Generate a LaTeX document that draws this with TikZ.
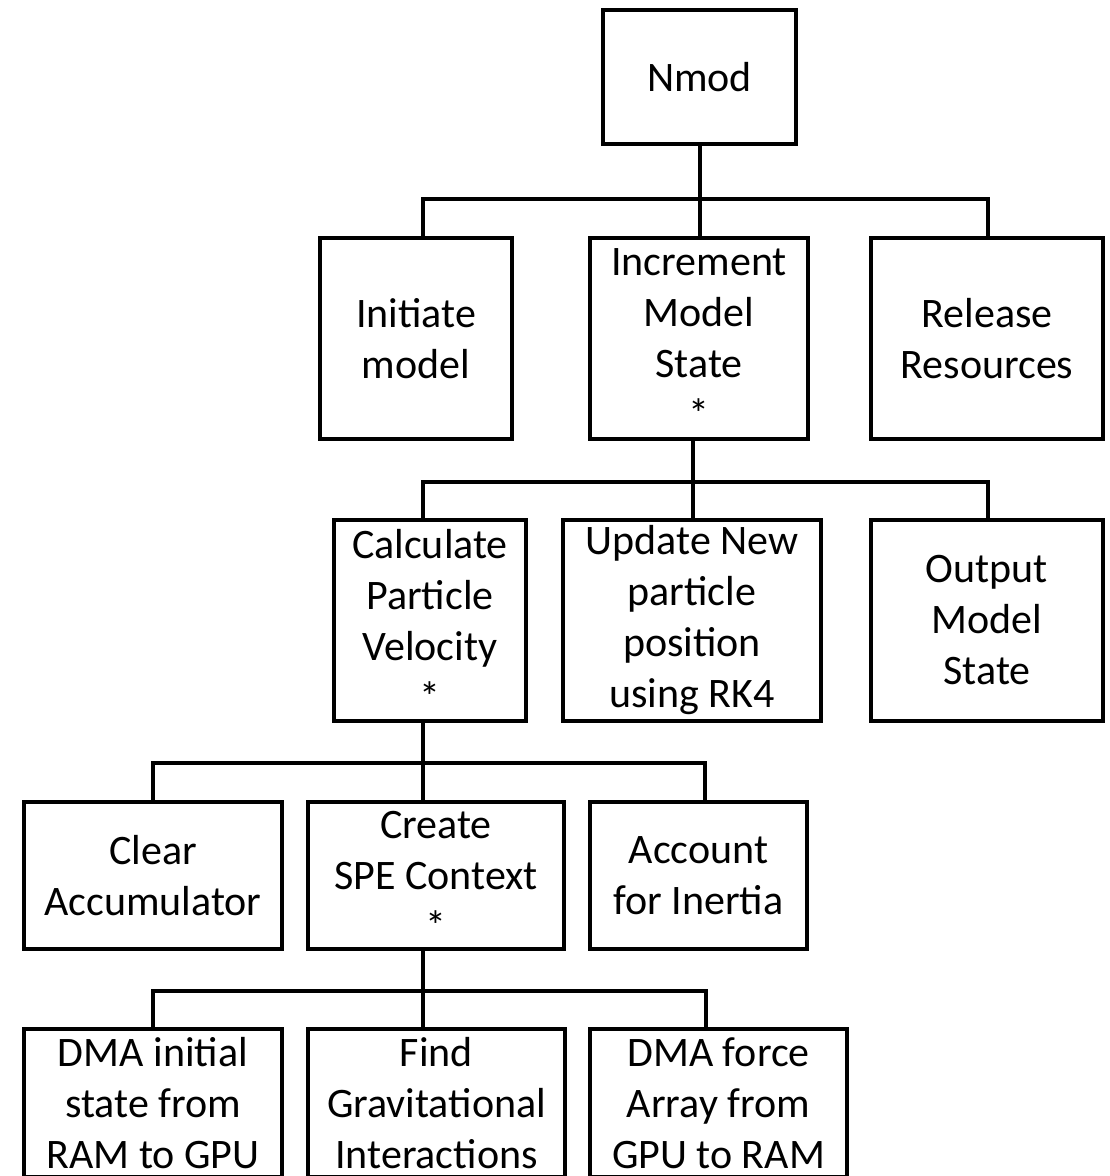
\documentclass[tikz,border=0pt]{standalone}
\usepackage{fontspec}
\setmainfont{Carlito}
\begin{document}
\begin{tikzpicture}[x=1pt,y=-1pt,
  box/.style={draw=black, line width=4.5pt, fill=white, rectangle,
    inner sep=0pt, align=center, font=\fontsize{42}{51}\selectfont},
  link/.style={draw=black, line width=4pt}]
\useasboundingbox[fill=white] (0,0) rectangle (1110,1176);

% ---- level 0
\node[box, minimum width=193, minimum height=134] (nmod) at (699.5,77) {Nmod};

% ---- level 1
\node[box, minimum width=192, minimum height=201] (init) at (416,338.5) {Initiate\\model};
\node[box, minimum width=218, minimum height=201] (incr) at (699,338.5) {Increment\\Model\\State\\*};
\node[box, minimum width=232, minimum height=201] (rel)  at (987,338.5) {Release\\Resources};

% ---- level 2
\node[box, minimum width=192, minimum height=201] (calc) at (430,620.5) {Calculate\\Particle\\Velocity\\*};
\node[box, minimum width=258, minimum height=201] (upd)  at (692,620.5) {Update New\\particle\\position\\using RK4};
\node[box, minimum width=232, minimum height=201] (out)  at (987,620.5) {Output\\Model\\State};

% ---- level 3
\node[box, minimum width=258, minimum height=147] (clear)  at (153,875.5) {Clear\\Accumulator};
\node[box, minimum width=256, minimum height=147] (create) at (436,875.5) {Create\\SPE Context\\*};
\node[box, minimum width=217, minimum height=147] (acct)   at (698.5,875.5) {Account\\for Inertia};

% ---- level 4
\node[box, minimum width=258, minimum height=148] (dmaa) at (153,1103) {DMA initial\\state from\\RAM to GPU};
\node[box, minimum width=257, minimum height=148] (find) at (436.5,1103) {Find\\Gravitational\\Interactions};
\node[box, minimum width=257, minimum height=148] (dmab) at (718.5,1103) {DMA force\\Array from\\GPU to RAM};

% ---- bus ends and trunk positions
\coordinate (b1l) at (423,199);  \coordinate (b1r) at (988,199);
\coordinate (b2l) at (423,482);  \coordinate (b2r) at (988,482);  \coordinate (t2) at (693,482);
\coordinate (b3l) at (153,763);  \coordinate (b3r) at (705,763);  \coordinate (t3) at (423,763);
\coordinate (b4l) at (153,991);  \coordinate (b4r) at (706,991);  \coordinate (t4) at (423,991);

% ---- connectors
\begin{scope}[on background layer/.try]
\draw[link] (nmod.south) -- (nmod.south |- incr.north);
\draw[link] (init.north -| b1l) -- (b1l) -- (b1r) -- (rel.north -| b1r);

\draw[link] (incr.south -| t2) -- (upd.north -| t2);
\draw[link] (calc.north -| b2l) -- (b2l) -- (b2r) -- (out.north -| b2r);

\draw[link] (calc.south -| t3) -- (create.north -| t3);
\draw[link] (clear.north -| b3l) -- (b3l) -- (b3r) -- (acct.north -| b3r);

\draw[link] (create.south -| t4) -- (find.north -| t4);
\draw[link] (dmaa.north -| b4l) -- (b4l) -- (b4r) -- (dmab.north -| b4r);
\end{scope}
\end{tikzpicture}
\end{document}
